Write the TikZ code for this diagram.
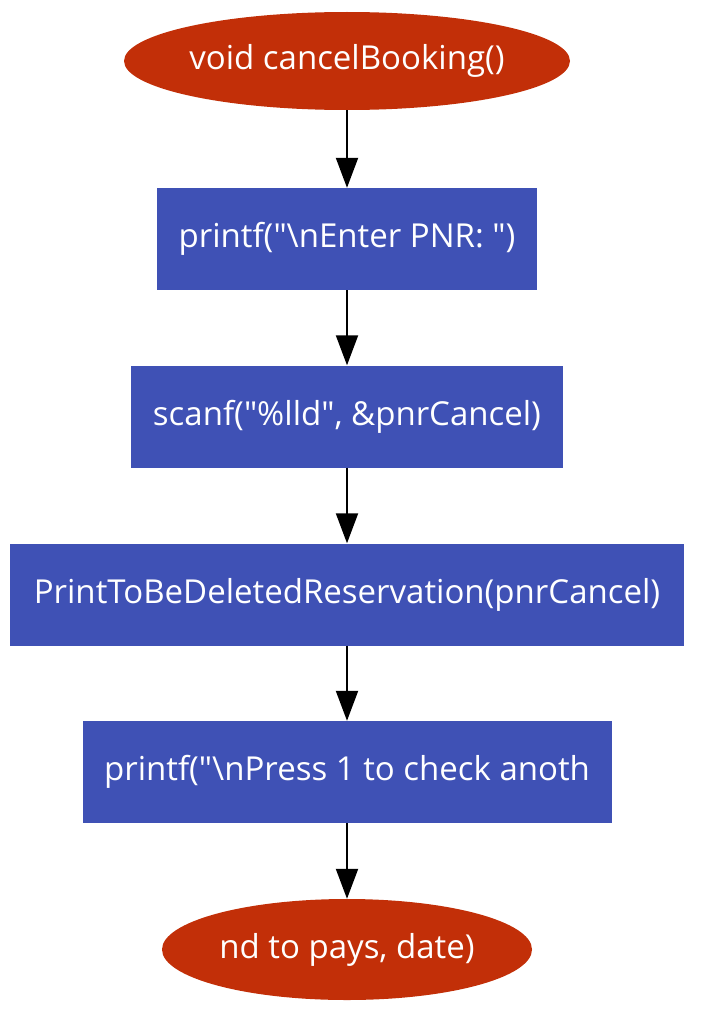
\documentclass[tikz,border=0pt]{standalone}
\usepackage{fontspec}
\setmainfont{Open Sans}
\usepackage{tikz}
\usetikzlibrary{shapes.geometric, arrows.meta}

\definecolor{termred}{HTML}{C22F08}
\definecolor{stepblue}{HTML}{3F51B5}

\tikzset{
    terminal/.style={ellipse, fill=termred, text=white, inner sep=0pt},
    stepbox/.style={rectangle, fill=stepblue, text=white, inner sep=0pt, minimum height=102},
    flow/.style={-{Triangle[length=30, width=22]}, line width=2}
}

\begin{document}
\begin{tikzpicture}[x=1pt, y=-1pt, font=\fontsize{33}{38}\selectfont]
    \useasboundingbox (0,0) rectangle (708,1025);

    \node[terminal, minimum width=446, minimum height=98] (start) at (347, 61) {void cancelBooking()};
    \node[stepbox, minimum width=380] (s1) at (347, 239) {printf(\textquotedbl\textbackslash nEnter PNR: \textquotedbl)};
    \node[stepbox, minimum width=432] (s2) at (347, 416.5) {scanf(\textquotedbl\%lld\textquotedbl, \&pnrCancel)};
    \node[stepbox, minimum width=674] (s3) at (347, 594.5) {PrintToBeDeletedReservation(pnrCancel)};
    \node[stepbox, minimum width=529] (s4) at (347, 772) {printf(\textquotedbl\textbackslash nPress 1 to check anoth};
    \node[terminal, minimum width=370, minimum height=101] (stop) at (347, 949.5) {nd to pays, date)};

    \draw[flow] (start) -- (s1);
    \draw[flow] (s1) -- (s2);
    \draw[flow] (s2) -- (s3);
    \draw[flow] (s3) -- (s4);
    \draw[flow] (s4) -- (stop);
\end{tikzpicture}
\end{document}
